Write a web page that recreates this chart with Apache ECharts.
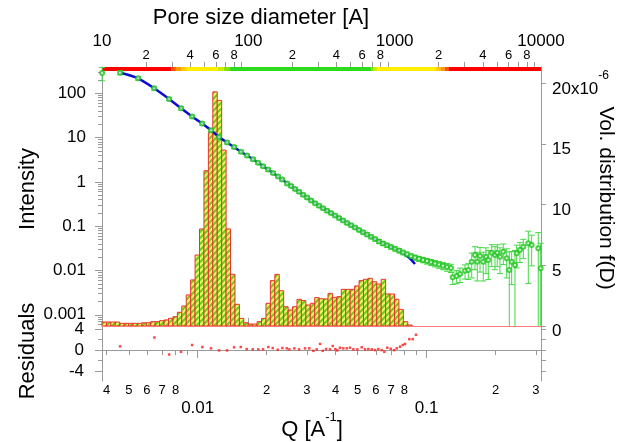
<!DOCTYPE html>
<html><head><meta charset="utf-8">
<script src="https://cdn.jsdelivr.net/npm/echarts@6/dist/echarts.min.js"></script>
<style>html,body{margin:0;padding:0;background:#fff}#c{width:617px;height:442px}</style>
</head><body><div id="c"></div>
<script>
// ---------------- data ----------------
const qData = [0.003824,0.004583,0.005490,0.006449,0.007502,0.008462,0.009453,0.010452,0.011443,0.012401,
0.013437,0.014421,0.015473,0.016431,0.017452,0.018357,0.019302,0.020298,0.021346,0.022445,
0.023372,0.024572,0.025584,0.026630,0.027727,0.028863,0.030048,0.031282,0.032568,0.033894,
0.035286,0.036740,0.038238,0.039811,0.041449,0.043142,0.044918,0.046767,0.048674,0.050677,
0.052761,0.054916,0.057174,0.059524,0.061955,0.064503,0.067156,0.069903,0.072778,0.075771,
0.078870,0.082114,0.085491,0.088984,0.092642,0.096450,0.10039,0.10452,0.10882,0.11327,
0.11792,0.12277,0.12781,
0.1300,0.1353,0.1399,0.1472,0.1521,0.1574,0.1627,0.1665,0.1711,0.1768,0.1817,0.1860,0.1925,0.1989,
0.2035,0.2091,0.2162,0.2238,0.2297,0.2353,0.2432,0.2474,0.2557,0.2645,0.2781,0.2877,0.3074,0.315];
const iData = [287,292,218,130,74.3,45.9,29.9,20.8,14.6,10.3,
7.75,6.13,4.78,3.94,3.24,2.70,2.26,1.895,1.588,1.331,
1.133,0.920,0.808,0.695,0.598,0.514,0.442,0.380,0.331,0.290,
0.255,0.224,0.1975,0.1734,0.1523,0.1345,0.1181,0.1048,0.0930,0.0825,
0.0732,0.0650,0.0576,0.0512,0.0454,0.0409,0.0373,0.0339,0.0309,0.0281,
0.0256,0.0232,0.0211,0.0196,0.0184,0.0173,0.0163,0.0153,0.0144,0.0136,
0.0128,0.0120,0.0114,
0.00703,0.00752,0.00834,0.0099,0.01026,0.0158,0.0224,0.0158,0.0212,0.0158,0.0205,0.0173,0.0252,0.0224,
0.0252,0.0205,0.0266,0.0188,0.01026,0.0158,0.0133,0.0244,0.0291,0.0345,0.0411,0.0377,0.0317,0.0112];
const iErr = [95,30,20,11,6,3.7,2.4,1.7,1.2,0.85,
0.62,0.5,0.38,0.32,0.26,0.22,0.18,0.15,0.13,0.11,
0.09,0.075,0.065,0.056,0.048,0.042,0.036,0.031,0.027,0.024,
0.021,0.018,0.016,0.014,0.013,0.011,0.010,0.009,0.008,0.0075,
0.0068,0.0062,0.0056,0.0051,0.0046,0.0042,0.0039,0.0036,0.0034,0.0032,
0.0030,0.0028,0.0026,0.0025,0.0024,0.0024,0.0024,0.0024,0.0024,0.0024,
0.0024,0.0024,0.0024,
0.0022,0.0025,0.003,0.0035,0.004,0.009,0.012,0.01,0.012,0.01,0.012,0.011,0.013,0.012,
0.013,0.012,0.013,0.012,0.016,0.011,0.015,0.013,0.014,0.016,0.036,0.025,0.04,0.03];

const qFit = [0.004583,0.00549,0.006449,0.007502,0.008462,0.009453,0.010452,0.011443,0.012401,0.013437,
0.015473,0.017452,0.019302,0.021346,0.023372,0.025584,0.028863,0.032568,0.036740,0.041449,
0.046767,0.052761,0.059524,0.067156,0.072778,0.07887,0.083775,0.088984];
const iFit = [291.7,218,129.7,74.3,45.9,29.9,20.8,14.6,10.3,7.75,
4.78,3.24,2.26,1.59,1.133,0.808,0.514,0.331,0.224,0.1523,
0.1048,0.0732,0.0512,0.0373,0.0306,0.02445,0.01966,0.01402];

const qRes = [0.004583,0.006469,0.007502,0.008462,0.009452,0.01048,0.01144,0.01240,0.01344,0.01442,
0.01543,0.01638,0.01740,0.01841,0.01930,0.02036,0.02128,0.02238,0.02344,0.02450,
0.02515,0.02644,0.02773,0.02944,0.03074,0.03201,0.03312,0.03424,0.03518,0.03637,
0.03786,0.03890,0.03993,0.04074,0.04186,0.04327,0.04478,0.04629,0.04785,0.04982,
0.05207,0.05383,0.05565,0.05759,0.05953,0.06154,0.06367,0.06536,0.06737,0.06971,
0.07206,0.07404,0.07654,0.07865,0.08050,0.08405,0.08697,0.08990];
const resid = [0.72,2.4,-0.84,-0.33,0.97,0.58,0.33,-0.06,-0.06,0.53,
0.58,0.19,0.14,0.14,0.14,0.58,0.39,0.06,0.39,0.33,
0.14,0.33,0.14,0.33,0.33,-0.14,0.14,1.17,-0.14,0.19,
0.14,0.78,0.19,-0.06,0.45,0.33,0.33,0.45,0.14,0.14,
0.53,0.14,0.19,0.14,0,0.19,0,-0.33,0.45,0.25,
0,0.33,0.64,0.97,1.17,2.09,2.09,2.92];

// pore-size distribution: bin centres (Å) and f(D) in units of 1e-6
const binCentersD = [10.35,11.10,11.90,12.76,13.68,14.67,15.73,16.87,18.09,19.40,
20.80,22.30,23.91,25.64,27.49,29.48,31.60,33.89,36.34,38.96,
41.78,44.79,48.03,51.50,55.22,59.21,63.49,68.07,72.99,78.27,
83.92,89.98,96.41,103.37,110.84,118.85,127.44,136.64,146.51,157.09,
168.44,180.61,193.65,207.64,222.64,238.72,255.96,274.45,294.27,315.53,
338.32,362.76,388.96,417.05,447.17,479.47,514.10,551.23,591.05,633.74,
679.51,728.59,781.22,837.64,898.14,963.01,1032.6,1107.1,1187.1,1272.8];
const volDist = [0.33,0.33,0.33,0.33,0.22,0.22,0.22,0.22,0.22,0.27,
0.27,0.36,0.36,0.44,0.50,0.63,0.77,1.13,1.65,2.56,
3.8,5.85,8.0,12.8,16.0,19.3,18.6,14.5,8.0,4.26,
1.79,0.63,0.27,0.16,0.16,0.36,0.63,1.87,3.74,4.26,
2.91,1.59,1.32,1.59,2.20,2.09,1.73,1.87,2.34,2.25,
2.23,2.69,2.36,2.42,3.02,3.02,3.02,3.30,3.74,3.85,
3.93,3.65,3.46,3.85,2.64,2.64,2.20,1.37,0.36,0.08];

// colour band under the pore-size axis
const bandEdgesD = [10,29.9,32,35,38,62,68,75,690,720,760,1900,2050,2200,2350,10000];
const bandColors = ['#ff0000','#ff5500','#ff9900','#ffcc00','#ffee00','#ccee00','#88e000','#2ddc1e',
                    '#88e000','#ccee00','#ffee00','#ffcc00','#ff9900','#ff5500','#ff0000'];

// tick labels
const topMajor = [10,100,1000,10000];
const topDigits = [2,4,6,8];
const bottomMajor = [0.01,0.1];
const bottomDigits = [2,3,4,5,6,7,8];
const leftMajor = [0.001,0.01,0.1,1,10,100];
const rightTicks = [0,5,10,15,20];
const resMajor = [-4,0,4];
const resMinor = [-2,2];

// ---------------- ranges ----------------
const Q_MIN = 0.00382, Q_MAX = 0.316;
const D_MIN = 10, D_MAX = 10000;
const I_MIN = 0.000558, I_MAX = 393;
const V_MAX = 21.35;
const R_MIN = -5.9, R_MAX = 4.6;
const L = Math.log10;
const FONT = "'Liberation Sans', Arial, sans-serif";
const AX = '#9a9a9a', TXT = '#000';
const TITLE_SIZE = 22;

function decadeTicks(lo, hi, mults) {
  const out = [];
  for (let e = -6; e <= 6; e++) for (const m of mults) {
    const v = m * Math.pow(10, e);
    if (v >= lo * 0.99999 && v <= hi * 1.00001) out.push(L(v));
  }
  return out;
}
function digitFmt(v) { const p = Math.pow(10, v); return String(Math.round(p / Math.pow(10, Math.floor(v + 1e-9)))); }
function decFmt(v) {
  const r = Math.round(v);
  if (r >= 0) return String(Math.round(Math.pow(10, r)));
  return '0.' + '0'.repeat(-r - 1) + '1';
}
const MINOR = [2,3,4,5,6,7,8,9];

// hatch pattern
function makeHatch() {
  const c = document.createElement('canvas'); c.width = 6; c.height = 6;
  const g = c.getContext('2d');
  g.fillStyle = '#eef46a'; g.fillRect(0, 0, 6, 6);
  g.strokeStyle = '#6ccc1c'; g.lineWidth = 2;
  g.beginPath();
  g.moveTo(-1, 7); g.lineTo(7, -1);
  g.moveTo(-4, 4); g.lineTo(4, -4);
  g.moveTo(2, 10); g.lineTo(10, 2);
  g.stroke();
  return c;
}
const hatch = { image: makeHatch(), repeat: 'repeat' };

const histData = binCentersD.map((d, i) => {
  const prev = i > 0 ? binCentersD[i - 1] : d * d / binCentersD[i + 1];
  const next = i < binCentersD.length - 1 ? binCentersD[i + 1] : d * d / binCentersD[i - 1];
  return [Math.sqrt(prev * d), Math.sqrt(d * next), volDist[i]];
});
const bandData = bandColors.map((c, i) => [bandEdgesD[i], bandEdgesD[i + 1], 0]);
const pts = qData.map((q, i) => [q, iData[i], iErr[i]]);

const ERR_COL = '#45d845', PT_COL = '#1fc41f';

function hiddenLog(grid, min, max, pos) {
  return { gridIndex: grid, type: 'log', logBase: 10, min, max, show: false, position: pos };
}
const lblBase = { color: TXT, fontFamily: FONT };

const option = {
  animation: false,
  grid: [
    { left: 102, top: 67, width: 439, height: 259, outerBoundsMode: 'none', containLabel: false },
    { left: 102, top: 326, width: 439, height: 55, outerBoundsMode: 'none', containLabel: false }
  ],
  xAxis: [
    hiddenLog(0, Q_MIN, Q_MAX, 'bottom'),
    hiddenLog(0, D_MIN, D_MAX, 'top'),
    { gridIndex: 0, type: 'value', position: 'top', min: L(D_MIN), max: L(D_MAX), splitLine: { show: false },
      axisLine: { show: true, lineStyle: { color: AX } },
      axisTick: { show: true, customValues: topMajor.map(L), length: 8, lineStyle: { color: AX } },
      axisLabel: Object.assign({ show: true, customValues: topMajor.map(L), margin: 17, fontSize: 17,
        formatter: v => String(Math.round(Math.pow(10, v))) }, lblBase) },
    { gridIndex: 0, type: 'value', position: 'top', min: L(D_MIN), max: L(D_MAX), splitLine: { show: false },
      axisLine: { show: false },
      axisTick: { show: true, customValues: decadeTicks(D_MIN, D_MAX, MINOR), length: 5, lineStyle: { color: AX } },
      axisLabel: Object.assign({ show: true, customValues: decadeTicks(D_MIN, D_MAX, topDigits), margin: 5, fontSize: 13,
        formatter: digitFmt }, lblBase) },
    hiddenLog(1, Q_MIN, Q_MAX, 'bottom'),
    { gridIndex: 1, type: 'value', position: 'bottom', min: L(Q_MIN), max: L(Q_MAX), splitLine: { show: false },
      axisLine: { show: true, lineStyle: { color: AX } },
      axisTick: { show: true, customValues: bottomMajor.map(L), length: 8, lineStyle: { color: AX } },
      axisLabel: Object.assign({ show: true, customValues: bottomMajor.map(L), margin: 19, fontSize: 17,
        formatter: v => (Math.round(v) === -2 ? '0.01' : '0.1') }, lblBase) },
    { gridIndex: 1, type: 'value', position: 'bottom', min: L(Q_MIN), max: L(Q_MAX), splitLine: { show: false },
      axisLine: { show: false },
      axisTick: { show: true, customValues: decadeTicks(Q_MIN, Q_MAX, MINOR), length: 5, lineStyle: { color: AX } },
      axisLabel: Object.assign({ show: true, customValues: decadeTicks(Q_MIN, Q_MAX, bottomDigits), margin: 3, fontSize: 13,
        formatter: digitFmt }, lblBase) }
  ],
  yAxis: [
    hiddenLog(0, I_MIN, I_MAX, 'left'),
    { gridIndex: 0, type: 'value', position: 'left', min: L(I_MIN), max: L(I_MAX), splitLine: { show: false },
      axisLine: { show: true, lineStyle: { color: AX } },
      axisTick: { show: true, customValues: leftMajor.map(L), length: 7, lineStyle: { color: AX } },
      axisLabel: Object.assign({ show: true, customValues: leftMajor.map(L), margin: 16, fontSize: 17,
        formatter: decFmt }, lblBase) },
    { gridIndex: 0, type: 'value', position: 'left', min: L(I_MIN), max: L(I_MAX), splitLine: { show: false },
      axisLine: { show: false },
      axisTick: { show: true, customValues: decadeTicks(I_MIN, I_MAX, MINOR), length: 4, lineStyle: { color: AX } },
      axisLabel: { show: false } },
    { gridIndex: 0, type: 'value', position: 'right', min: 0, max: V_MAX, interval: 5, splitLine: { show: false },
      axisLine: { show: true, lineStyle: { color: AX } },
      axisTick: { show: true, customValues: rightTicks, length: 5, lineStyle: { color: AX } },
      axisLabel: { show: true, customValues: rightTicks, margin: 11,
        formatter: v => (v === 20 ? '{m|20x10}{s|-6}' : '{m|' + v + '}'),
        rich: {
          m: { fontSize: 17, fontFamily: FONT, color: TXT, lineHeight: 28, verticalAlign: 'bottom' },
          s: { fontSize: 12, fontFamily: FONT, color: TXT, verticalAlign: 'top', lineHeight: 14 }
        } } },
    { gridIndex: 1, type: 'value', position: 'left', min: R_MIN, max: R_MAX, splitLine: { show: false },
      axisLine: { show: true, lineStyle: { color: AX } },
      axisTick: { show: true, customValues: resMajor, length: 7, lineStyle: { color: AX } },
      axisLabel: Object.assign({ show: true, customValues: resMajor, margin: 18, fontSize: 17 }, lblBase) },
    { gridIndex: 1, type: 'value', position: 'left', min: R_MIN, max: R_MAX, splitLine: { show: false },
      axisLine: { show: false },
      axisTick: { show: true, customValues: resMinor, length: 4, lineStyle: { color: AX } },
      axisLabel: { show: false } },
    { gridIndex: 1, type: 'value', position: 'right', min: R_MIN, max: R_MAX, splitLine: { show: false },
      axisLine: { show: true, lineStyle: { color: AX } },
      axisTick: { show: true, customValues: resMajor.concat(resMinor), length: 5, lineStyle: { color: AX } },
      axisLabel: { show: false } }
  ],
  graphic: [
    { type: 'text', x: 261, y: 18, style: { text: 'Pore size diameter [A]', fontSize: TITLE_SIZE, fontFamily: FONT, fill: TXT, align: 'center', verticalAlign: 'middle' } },
    { type: 'text', x: 28, y: 189, rotation: Math.PI / 2, style: { text: 'Intensity', fontSize: TITLE_SIZE, fontFamily: FONT, fill: TXT, align: 'center', verticalAlign: 'middle' } },
    { type: 'text', x: 28, y: 351, rotation: Math.PI / 2, style: { text: 'Residuals', fontSize: TITLE_SIZE, fontFamily: FONT, fill: TXT, align: 'center', verticalAlign: 'middle' } },
    { type: 'text', x: 606, y: 198, rotation: -Math.PI / 2, style: { text: 'Vol. distribution f(D)', fontSize: 21, fontFamily: FONT, fill: TXT, align: 'center', verticalAlign: 'middle' } },
    { type: 'text', x: 312, y: 426, style: { text: '{m|Q [A}{s|-1}{m|]}', align: 'center', verticalAlign: 'middle',
        rich: { m: { fontSize: TITLE_SIZE, fontFamily: FONT, fill: TXT, color: TXT, lineHeight: 30, verticalAlign: 'bottom' },
                s: { fontSize: 13, fontFamily: FONT, fill: TXT, color: TXT, lineHeight: 15, verticalAlign: 'top' } } } }
  ],
  series: [
    { type: 'custom', name: 'f(D)', coordinateSystem: 'cartesian2d', xAxisIndex: 1, yAxisIndex: 3, z: 1,
      data: histData, encode: { x: [0, 1], y: 2 }, silent: true,
      renderItem: (params, api) => {
        const p0 = api.coord([api.value(0), api.value(2)]);
        const p1 = api.coord([api.value(1), 0]);
        return { type: 'rect', shape: { x: p0[0], y: p0[1], width: p1[0] - p0[0], height: p1[1] - p0[1] },
                 style: { fill: hatch, stroke: '#ee3030', lineWidth: 1 } };
      },
      markLine: { silent: true, symbol: 'none', animation: false, label: { show: false },
        lineStyle: { color: '#ff7b7b', width: 1, type: 'solid' }, data: [{ yAxis: 0 }] } },
    { type: 'custom', name: 'band', coordinateSystem: 'cartesian2d', xAxisIndex: 1, yAxisIndex: 3, z: 2,
      data: bandData, encode: { x: [0, 1], y: 2 }, silent: true,
      renderItem: (params, api) => {
        const cs = params.coordSys;
        const x0 = api.coord([api.value(0), 0])[0], x1 = api.coord([api.value(1), 0])[0];
        return { type: 'rect', shape: { x: x0, y: cs.y, width: x1 - x0, height: 4 },
                 style: { fill: bandColors[params.dataIndex] } };
      } },
    { type: 'custom', name: 'err', coordinateSystem: 'cartesian2d', xAxisIndex: 0, yAxisIndex: 0, z: 3,
      data: pts, encode: { x: 0, y: 1 }, silent: true,
      renderItem: (params, api) => {
        const q = api.value(0), v = api.value(1), e = api.value(2);
        const lo = v - e, hi = Math.min(v + e, I_MAX);
        const clamped = lo <= I_MIN;
        const pt = api.coord([q, hi]);
        const pb = api.coord([q, clamped ? I_MIN : lo]);
        const w = 3;
        const ch = [
          { type: 'line', shape: { x1: pt[0], y1: pt[1], x2: pb[0], y2: pb[1] }, style: { stroke: ERR_COL, lineWidth: 1 } },
          { type: 'line', shape: { x1: pt[0] - w, y1: pt[1], x2: pt[0] + w, y2: pt[1] }, style: { stroke: ERR_COL, lineWidth: 1 } }
        ];
        if (!clamped) ch.push({ type: 'line', shape: { x1: pb[0] - w, y1: pb[1], x2: pb[0] + w, y2: pb[1] }, style: { stroke: ERR_COL, lineWidth: 1 } });
        return { type: 'group', children: ch };
      } },
    { type: 'line', name: 'fit', xAxisIndex: 0, yAxisIndex: 0, z: 4, smooth: 0.3, showSymbol: false, symbol: 'none',
      data: qFit.map((q, i) => [q, iFit[i]]), lineStyle: { color: '#0a0ad0', width: 2.5 }, silent: true },
    { type: 'scatter', name: 'data', xAxisIndex: 0, yAxisIndex: 0, z: 5,
      data: qData.map((q, i) => [q, iData[i]]), symbol: 'emptyCircle', symbolSize: 4,
      itemStyle: { color: PT_COL, borderColor: PT_COL, borderWidth: 1 }, silent: true },
    { type: 'scatter', name: 'residuals', xAxisIndex: 4, yAxisIndex: 4, z: 5,
      data: qRes.map((q, i) => [q, resid[i]]), symbol: 'rect', symbolSize: 2.5,
      itemStyle: { color: '#ff1a1a' }, silent: true }
  ]
};
const chart = echarts.init(document.getElementById('c'), null, { renderer: 'canvas' });
chart.setOption(option);
</script>
</body></html>
